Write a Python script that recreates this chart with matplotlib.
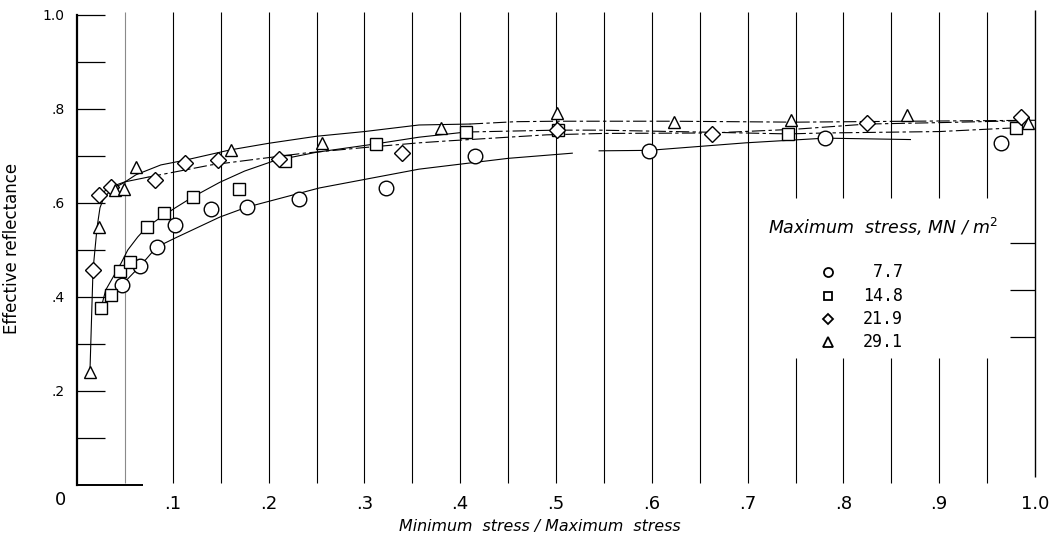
import matplotlib
matplotlib.use("Agg")
import matplotlib.pyplot as plt
import numpy as np

# ---------------- data ----------------
# measured points, Maximum stress 7.7 MN/m^2 (circles)
x_77 = [0.047, 0.066, 0.083, 0.102, 0.1396, 0.177, 0.232, 0.323, 0.415, 0.597, 0.781, 0.965]
y_77 = [0.426, 0.466, 0.506, 0.553, 0.587, 0.591, 0.608, 0.632, 0.700, 0.711, 0.738, 0.727]
# 14.8 (squares)
x_148 = [0.025, 0.035, 0.045, 0.055, 0.073, 0.0906, 0.121, 0.169, 0.217, 0.3125, 0.406, 0.502, 0.742, 0.980]
y_148 = [0.376, 0.404, 0.455, 0.475, 0.549, 0.579, 0.613, 0.630, 0.689, 0.726, 0.751, 0.755, 0.747, 0.760]
# 21.9 (diamonds)
x_219 = [0.0167, 0.023, 0.035, 0.081, 0.1125, 0.147, 0.211, 0.339, 0.501, 0.6625, 0.825, 0.985]
y_219 = [0.457, 0.617, 0.634, 0.649, 0.685, 0.691, 0.693, 0.706, 0.755, 0.747, 0.770, 0.783]
# 29.1 (triangles)
x_291 = [0.0135, 0.023, 0.0396, 0.049, 0.0615, 0.161, 0.256, 0.380, 0.501, 0.623, 0.745, 0.866, 0.993]
y_291 = [0.240, 0.549, 0.628, 0.630, 0.677, 0.713, 0.727, 0.760, 0.791, 0.773, 0.777, 0.787, 0.770]

# faired curves (solid part, broken part)
c77_x = [0.047, 0.066, 0.083, 0.102, 0.149, 0.177, 0.253, 0.357, 0.45, 0.517]
c77_y = [0.426, 0.466, 0.506, 0.525, 0.570, 0.591, 0.632, 0.672, 0.695, 0.706]
c77b_x = [0.545, 0.597, 0.698, 0.781, 0.87]
c77b_y = [0.711, 0.712, 0.728, 0.738, 0.735]

c148_x = [0.025, 0.030, 0.046, 0.053, 0.0635, 0.073, 0.0865, 0.102, 0.121, 0.149, 0.175, 0.206, 0.25, 0.3125, 0.357, 0.406]
c148_y = [0.376, 0.415, 0.472, 0.500, 0.528, 0.549, 0.568, 0.589, 0.613, 0.644, 0.668, 0.690, 0.708, 0.726, 0.740, 0.751]
c148b_x = [0.406, 0.50, 0.545, 0.65, 0.742, 0.781, 0.90, 0.98]
c148b_y = [0.751, 0.755, 0.755, 0.751, 0.747, 0.749, 0.752, 0.760]

c219_x = [0.023, 0.035, 0.05, 0.074]
c219_y = [0.617, 0.634, 0.645, 0.655]
c219b_x = [0.074, 0.102, 0.14, 0.19, 0.237, 0.30, 0.357, 0.386, 0.49, 0.55, 0.6625, 0.75, 0.825, 0.90, 0.985]
c219b_y = [0.655, 0.666, 0.681, 0.694, 0.706, 0.718, 0.728, 0.732, 0.745, 0.748, 0.749, 0.757, 0.768, 0.771, 0.775]

c291_x = [0.0135, 0.0167, 0.021, 0.024, 0.027, 0.035, 0.048, 0.0615, 0.0875, 0.1125, 0.16, 0.20, 0.25, 0.30, 0.357, 0.41]
c291_y = [0.240, 0.457, 0.549, 0.590, 0.606, 0.628, 0.642, 0.660, 0.681, 0.691, 0.713, 0.727, 0.742, 0.752, 0.766, 0.768]
c291b_x = [0.41, 0.458, 0.50, 0.62, 0.75, 0.87, 1.0]
c291b_y = [0.768, 0.773, 0.774, 0.774, 0.772, 0.774, 0.776]

legend_labels = [" 7.7", "14.8", "21.9", "29.1"]
legend_title = r"Maximum  stress, MN / m$^{2}$"
xtick_vals = [0.1, 0.2, 0.3, 0.4, 0.5, 0.6, 0.7, 0.8, 0.9, 1.0]
xtick_labels = [".1", ".2", ".3", ".4", ".5", ".6", ".7", ".8", ".9", "1.0"]
ytick_vals = [0.2, 0.4, 0.6, 0.8, 1.0]
ytick_labels = [".2", ".4", ".6", ".8", "1.0"]
right_ticks = [0.315, 0.415, 0.515]

# ---------------- figure ----------------
W, H = 1064, 541
fig = plt.figure(figsize=(W / 100, H / 100), dpi=100)
x0, x1, ytop, ybot = 77, 1035, 15, 485
ax = fig.add_axes([x0 / W, (H - ybot) / H, (x1 - x0) / W, (ybot - ytop) / H])
ax.set_xlim(0, 1)
ax.set_ylim(0, 1)
for s in ax.spines.values():
    s.set_visible(False)
ax.spines["left"].set_visible(True)
ax.spines["left"].set_linewidth(1.6)

# grid (vertical lines every .05)
gx = np.round(np.arange(1, 20) * 0.05, 2)
glw = 0.8
for g in gx:
    col = "#8a8a8a" if g == 0.05 else "black"
    if 0.74 < g < 0.96:
        ax.vlines(g, 0.004, 0.27, color=col, lw=glw, clip_on=False, zorder=1)
        ax.vlines(g, 0.61, 1.006, color=col, lw=glw, clip_on=False, zorder=1)
    else:
        ax.vlines(g, 0.004, 1.006, color=col, lw=glw, clip_on=False, zorder=1)
# right edge line and its ticks
ax.vlines(1.0, 0.017, 1.01, color="black", lw=1.0, clip_on=False, zorder=1)
ax.hlines(right_ticks, 0.974, 1.0, color="black", lw=0.9, zorder=1)
# short bottom axis piece
ax.hlines(0, 0, 0.069, color="black", lw=1.4, clip_on=False, zorder=1)

lw = 0.8
dash = (0, (12, 3, 3, 3))
ax.plot(c77_x, c77_y, color="black", lw=lw, zorder=2)
ax.plot(c77b_x, c77b_y, color="black", lw=lw, zorder=2)
ax.plot(c148_x, c148_y, color="black", lw=lw, zorder=2)
ax.plot(c148b_x, c148b_y, color="black", lw=lw, ls=dash, zorder=2)
ax.plot(c219_x, c219_y, color="black", lw=lw, zorder=2)
ax.plot(c219b_x, c219b_y, color="black", lw=lw, ls=dash, zorder=2)
ax.plot(c291_x, c291_y, color="black", lw=lw, zorder=2)
ax.plot(c291b_x, c291b_y, color="black", lw=lw, ls=dash, zorder=2)

mk = dict(ls="none", mfc="white", mec="black", mew=1.0, zorder=3, clip_on=False)
ax.plot(x_77, y_77, marker="o", ms=10.5, **mk)
ax.plot(x_148, y_148, marker="s", ms=9, **mk)
ax.plot(x_219, y_219, marker="D", ms=8.3, **mk)
ax.plot(x_291, y_291, marker="^", ms=9, **mk)

# ticks
ax.set_xticks(xtick_vals)
ax.set_xticklabels(xtick_labels, fontsize=13)
ax.tick_params(axis="x", length=0, pad=7)
ax.text(-0.0177, -0.032, "0", fontsize=13, ha="center", va="center")
ax.set_yticks(ytick_vals)
ax.set_yticklabels(ytick_labels, fontsize=10)
ax.set_yticks([0.1, 0.3, 0.5, 0.7, 0.9], minor=True)
ax.tick_params(axis="y", which="both", direction="in", length=20, width=0.9, pad=9)

ax.set_xlabel("Minimum  stress / Maximum  stress", fontsize=11.4, style="oblique")
ax.xaxis.set_label_coords((540 - x0) / (x1 - x0), (ybot - 527) / (ybot - ytop))
ax.xaxis.label.set_va("center")
ax.set_ylabel("Effective reflectance", fontsize=12)
ax.yaxis.set_label_coords((12 - x0) / (x1 - x0), (ybot - 248) / (ybot - ytop))
ax.yaxis.label.set_va("center")

# legend (drawn in axes coordinates)
def ax_x(px):
    return (px - x0) / (x1 - x0)

def ax_y(py):
    return (ybot - py) / (ybot - ytop)

ax.text(ax_x(768), ax_y(227), legend_title, transform=ax.transAxes, fontsize=12.5,
        style="oblique", ha="left", va="center")
leg_markers = ["o", "s", "D", "^"]
leg_ms = [6.5, 6.0, 5.5, 7.0]
leg_rows = [272, 296, 319, 342]
for m, s_, lab, r in zip(leg_markers, leg_ms, legend_labels, leg_rows):
    ax.plot([ax_x(828)], [ax_y(r)], marker=m, ms=s_, mfc="white", mec="black", mew=1.3,
            transform=ax.transAxes, clip_on=False, zorder=3)
    ax.text(ax_x(903), ax_y(r), lab, transform=ax.transAxes, fontsize=12,
            family="DejaVu Sans Mono", ha="right", va="center")

fig.savefig("out.png", dpi=100)
